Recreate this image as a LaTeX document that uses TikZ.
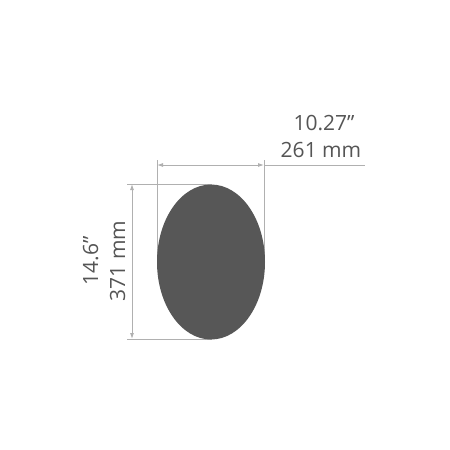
\documentclass[tikz,border=0pt]{standalone}
\usepackage{fontspec}
\setmainfont{Open Sans}
\usetikzlibrary{arrows.meta,shapes.geometric}
\definecolor{txtgray}{HTML}{555555}
\definecolor{linegray}{HTML}{B0B0B0}
\definecolor{shapegray}{HTML}{575757}
\tikzset{
  dimline/.style={draw=linegray, line width=0.9pt},
  dimarrow/.style={dimline, {Latex[length=6pt,width=4pt]}-{Latex[length=6pt,width=4pt]}},
  dimtext/.style={text=txtgray, font=\fontsize{21}{24}\selectfont, inner sep=0pt, anchor=base},
}
\begin{document}
\begin{tikzpicture}[x=1pt,y=-1pt]
\useasboundingbox (0,0) rectangle (450,450);
% extension lines
\coordinate (hl0) at (157,160);
\coordinate (hl1) at (157,262);
\coordinate (hr0) at (264,160);
\coordinate (hr1) at (264,266);
\coordinate (vt0) at (127,184);
\coordinate (vt1) at (212,184);
\coordinate (vb0) at (127,339);
\coordinate (vb1) at (212,339);
\coordinate (ha) at (157,165);
\coordinate (hb) at (264,165);
\coordinate (hc) at (365,165);
\coordinate (va) at (132,184);
\coordinate (vb) at (132,339);
\draw[dimline] (hl0) -- (hl1);
\draw[dimline] (hr0) -- (hr1);
\draw[dimline] (vt0) -- (vt1);
\draw[dimline] (vb0) -- (vb1);
\draw[dimarrow] (ha) -- (hb);
\draw[dimline] (hb) -- (hc);
\draw[dimarrow] (va) -- (vb);
% shape
\node[ellipse, fill=shapegray, draw=none, minimum width=108pt, minimum height=155pt, inner sep=0pt] (egg) at (211,262) {};
% labels
\node[dimtext] (win) at (324,130) {10.27”};
\node[dimtext] (wmm) at (321,157) {261 mm};
\node[dimtext, rotate=90] (hin) at (98,261) {14.6”};
\node[dimtext, rotate=90] (hmm) at (125,261) {371 mm};
\end{tikzpicture}
\end{document}
